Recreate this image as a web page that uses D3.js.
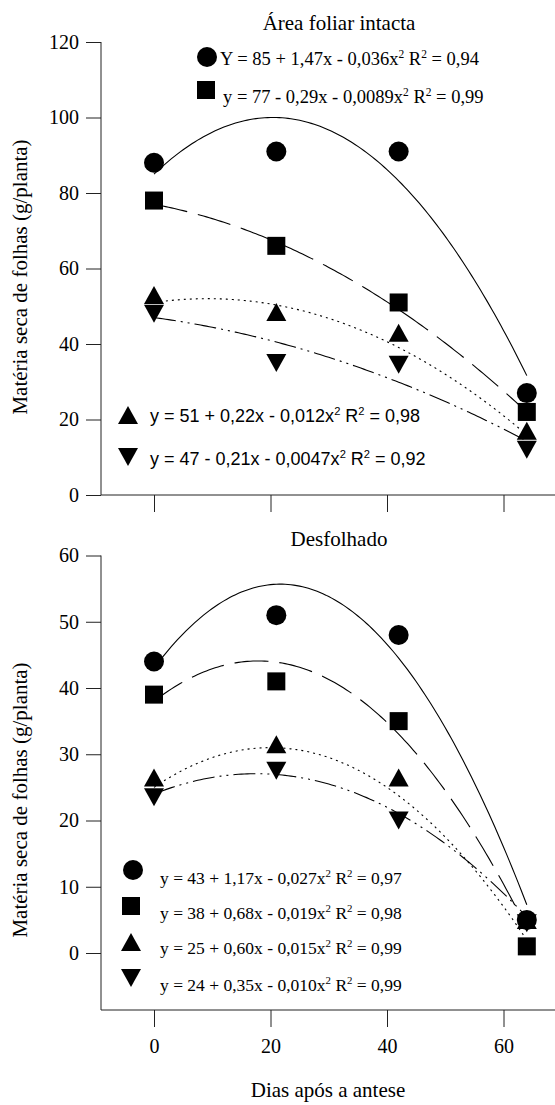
<!DOCTYPE html>
<html>
<head>
<meta charset="utf-8">
<script src="https://cdn.jsdelivr.net/npm/d3@7.9.0/dist/d3.min.js"></script>
<style>
  body { margin: 0; background: #fff; }
  svg { display: block; }
  text { fill: #000; }
</style>
</head>
<body>
<svg id="chart" width="555" height="1105"></svg>
<script>
// days after anthesis
const days = [0, 21, 42, 64];

// Área foliar intacta
const intactCircle = [88, 91, 91, 27];
const intactSquare = [78, 66, 51, 22];
const intactUp = [53, 48.5, 43, 17];
const intactDown = [48, 35, 34.5, 12];
// fit coefficients a + b*x + c*x^2
const intactFits = [[85, 1.47, -0.036], [77, -0.29, -0.0089], [51, 0.22, -0.012], [47, -0.21, -0.0047]];
const intactEq = [
  ["Y = 85 + 1,47x - 0,036x", " R", " = 0,94"],
  ["y = 77 - 0,29x - 0,0089x", " R", " = 0,99"],
  ["y = 51 + 0,22x - 0,012x", " R", " = 0,98"],
  ["y = 47 - 0,21x - 0,0047x", " R", " = 0,92"]
];

// Desfolhado
const defolCircle = [44, 51, 48, 5];
const defolSquare = [39, 41, 35, 1];
const defolUp = [26.5, 31.5, 26.5, 5];
const defolDown = [23.5, 27.5, 20, 4.5];
const defolFits = [[43, 1.17, -0.027], [38, 0.68, -0.019], [25, 0.60, -0.015], [24, 0.35, -0.010]];
const defolEq = [
  ["y = 43 + 1,17x - 0,027x", " R", " = 0,97"],
  ["y = 38 + 0,68x - 0,019x", " R", " = 0,98"],
  ["y = 25 + 0,60x - 0,015x", " R", " = 0,99"],
  ["y = 24 + 0,35x - 0,010x", " R", " = 0,99"]
];

const xTicks = [0, 20, 40, 60];
const intactTicks = [0, 20, 40, 60, 80, 100, 120];
const defolTicks = [0, 10, 20, 30, 40, 50, 60];

const serif = "Liberation Serif";
const sans = "Liberation Sans";
const shapes = ["circle", "square", "up", "down"];
const dashes = [null, "34,11", "2,4", "22,5,2,5,2,5"];

const svg = d3.select("#chart");
const x = d3.scaleLinear().domain([0, 60]).range([154, 503.5]);

function marker(g, shape, cx, cy) {
  if (shape === "circle") {
    g.append("circle").attr("cx", cx).attr("cy", cy).attr("r", 10).attr("fill", "#000");
  } else if (shape === "square") {
    g.append("rect").attr("x", cx - 9).attr("y", cy - 9).attr("width", 18).attr("height", 18).attr("fill", "#000");
  } else if (shape === "up") {
    g.append("path").attr("d", `M${cx - 10},${cy + 9}L${cx + 10},${cy + 9}L${cx},${cy - 9}Z`).attr("fill", "#000");
  } else {
    g.append("path").attr("d", `M${cx - 10},${cy - 9}L${cx + 10},${cy - 9}L${cx},${cy + 9}Z`).attr("fill", "#000");
  }
}

function equation(g, parts, tx, ty, font, size) {
  const t = g.append("text").attr("x", tx).attr("y", ty)
    .style("font-family", font).attr("font-size", size);
  t.append("tspan").text(parts[0]);
  t.append("tspan").attr("dy", -7).attr("font-size", size * 0.62).text("2");
  t.append("tspan").attr("dy", 7).text(parts[1]);
  t.append("tspan").attr("dy", -7).attr("font-size", size * 0.62).text("2");
  t.append("tspan").attr("dy", 7).text(parts[2]);
}

function panel(opts) {
  const g = svg.append("g");
  const y = d3.scaleLinear().domain(opts.yDomain).range(opts.yRange);

  // title
  g.append("text").attr("x", 339).attr("y", opts.titleY).attr("text-anchor", "middle")
    .style("font-family", serif).attr("font-size", 21).text(opts.title);

  // y axis
  const ya = g.append("g").attr("transform", "translate(101,0)")
    .call(d3.axisLeft(y).tickValues(opts.yTicks).tickSize(15).tickPadding(7).tickSizeOuter(0));
  ya.select(".domain").remove();
  ya.selectAll("line").attr("stroke", "#222");
  ya.selectAll("text").style("font-family", serif).attr("font-size", 20).attr("fill", "#000");
  g.append("line").attr("x1", 101).attr("x2", 101).attr("y1", y(opts.yDomain[1])).attr("y2", opts.frameY)
    .attr("stroke", "#222");

  // x axis
  const xa = g.append("g").attr("transform", `translate(0,${opts.frameY})`)
    .call(d3.axisBottom(x).tickValues(xTicks).tickSize(17).tickPadding(12)
      .tickFormat(opts.xLabels ? d3.format("d") : ""));
  xa.select(".domain").remove();
  xa.selectAll("line").attr("stroke", "#222");
  xa.selectAll("text").style("font-family", serif).attr("font-size", 20).attr("fill", "#000");
  g.append("line").attr("x1", 101).attr("x2", 555).attr("y1", opts.frameY).attr("y2", opts.frameY)
    .attr("stroke", "#222");

  // y label
  g.append("text").attr("transform", `translate(27,${opts.labelY}) rotate(-90)`)
    .attr("text-anchor", "middle").style("font-family", serif).attr("font-size", 21)
    .text("Matéria seca de folhas (g/planta)");

  // fitted curves
  const line = d3.line().x(d => x(d[0])).y(d => y(d[1]));
  opts.fits.forEach((c, i) => {
    const pts = d3.range(0, 64.01, 0.5).map(t => [t, c[0] + c[1] * t + c[2] * t * t]);
    g.append("path").attr("d", line(pts)).attr("fill", "none").attr("stroke", "#000")
      .attr("stroke-width", 1.1).attr("stroke-dasharray", dashes[i]);
  });

  // points
  opts.series.forEach((s, i) => {
    s.forEach((v, j) => marker(g, shapes[i], x(days[j]), y(v)));
  });

  // legend
  opts.legend.forEach(l => {
    marker(g, shapes[l.i], l.mx, l.my);
    equation(g, opts.eq[l.i], l.tx, l.ty, l.font, l.size);
  });
}

panel({
  title: "Área foliar intacta", titleY: 30,
  yDomain: [0, 120], yRange: [495, 42], yTicks: intactTicks, frameY: 495, labelY: 277,
  xLabels: false,
  fits: intactFits,
  series: [intactCircle, intactSquare, intactUp, intactDown],
  eq: intactEq,
  legend: [
    {i: 0, mx: 207, my: 57, tx: 220, ty: 65, font: serif, size: 18.5},
    {i: 1, mx: 206, my: 90, tx: 223, ty: 103, font: serif, size: 18.5},
    {i: 2, mx: 128, my: 415, tx: 150, ty: 422, font: sans, size: 18},
    {i: 3, mx: 128, my: 457, tx: 150, ty: 465, font: sans, size: 18}
  ]
});

panel({
  title: "Desfolhado", titleY: 546,
  yDomain: [0, 60], yRange: [953, 555.5], yTicks: defolTicks, frameY: 1010, labelY: 800,
  xLabels: true,
  fits: defolFits,
  series: [defolCircle, defolSquare, defolUp, defolDown],
  eq: defolEq,
  legend: [
    {i: 0, mx: 133, my: 870, tx: 160, ty: 884, font: serif, size: 17.5},
    {i: 1, mx: 131, my: 906, tx: 160, ty: 919, font: serif, size: 17.5},
    {i: 2, mx: 131, my: 942, tx: 160, ty: 954, font: serif, size: 17.5},
    {i: 3, mx: 131, my: 978, tx: 160, ty: 991, font: serif, size: 17.5}
  ]
});

svg.append("text").attr("x", 328).attr("y", 1097).attr("text-anchor", "middle")
  .style("font-family", serif).attr("font-size", 21).text("Dias após a antese");
</script>
</body>
</html>
